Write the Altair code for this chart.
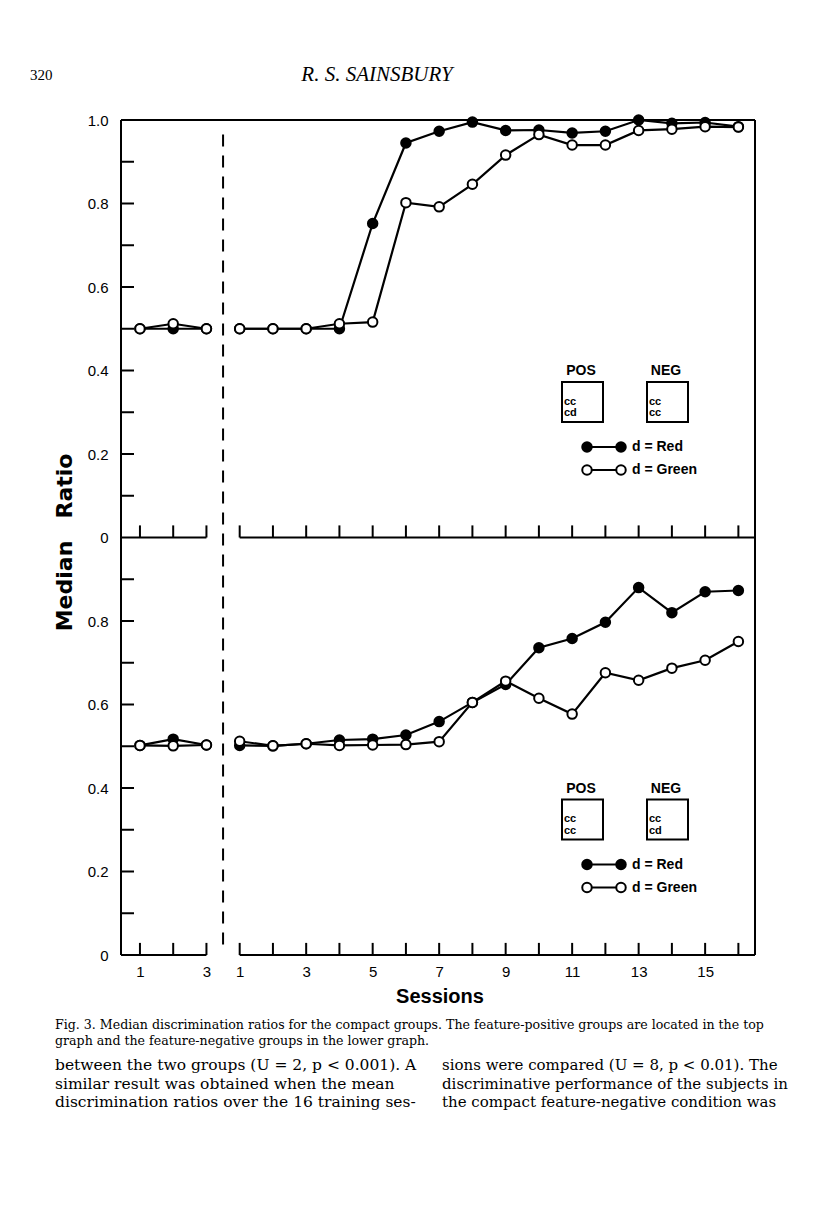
import altair as alt
import pandas as pd

# ---------------- data ----------------
base_sessions = [1, 2, 3]
train_sessions = list(range(1, 17))

# top graph: feature-positive groups
top_red_base = [0.50, 0.50, 0.50]
top_green_base = [0.50, 0.512, 0.50]
top_red_train = [0.50, 0.50, 0.50, 0.50, 0.752, 0.945, 0.973, 0.995,
                 0.975, 0.976, 0.969, 0.973, 1.00, 0.992, 0.994, 0.984]
top_green_train = [0.50, 0.50, 0.50, 0.512, 0.516, 0.802, 0.792, 0.846,
                   0.916, 0.965, 0.940, 0.940, 0.975, 0.978, 0.984, 0.983]

# lower graph: feature-negative groups
low_red_base = [0.502, 0.517, 0.503]
low_green_base = [0.502, 0.501, 0.503]
low_red_train = [0.502, 0.501, 0.506, 0.515, 0.517, 0.527, 0.559, 0.605,
                 0.648, 0.736, 0.758, 0.797, 0.880, 0.820, 0.870, 0.873]
low_green_train = [0.512, 0.501, 0.506, 0.502, 0.503, 0.504, 0.511, 0.605,
                   0.656, 0.615, 0.577, 0.676, 0.658, 0.687, 0.706, 0.751]

x_tick_labels = ["1", "3", "1", "3", "5", "7", "9", "11", "13", "15"]
y_tick_labels = ["0", "0.2", "0.4", "0.6", "0.8", "0", "0.2", "0.4", "0.6", "0.8", "1.0"]

# ---------------- build table ----------------
rows = []


def add(panel, phase, series, sessions, values):
    for s, v in zip(sessions, values):
        pos = s - 1 if phase == "base" else s + 2
        off = 1.0 if panel == "top" else 0.0
        rows.append(dict(panel=panel, phase=phase, series=series, session=s,
                         pos=pos, value=v, yv=v + off,
                         grp=f"{panel}-{phase}-{series}"))


add("top", "base", "Red", base_sessions, top_red_base)
add("top", "train", "Red", train_sessions, top_red_train)
add("low", "base", "Red", base_sessions, low_red_base)
add("low", "train", "Red", train_sessions, low_red_train)
add("top", "base", "Green", base_sessions, top_green_base)
add("top", "train", "Green", train_sessions, top_green_train)
add("low", "base", "Green", base_sessions, low_green_base)
add("low", "train", "Green", train_sessions, low_green_train)
df = pd.DataFrame(rows)

# ---------------- layout constants ----------------
W, H = 634, 835
X_MIN, X_MAX = -0.57, 18.5
FONT_SANS = "Liberation Sans"
FONT_SERIF = "DejaVu Serif"

x_vals = [0, 2, 3, 5, 7, 9, 11, 13, 15, 17]
y_vals = [0, 0.2, 0.4, 0.6, 0.8, 1.0, 1.2, 1.4, 1.6, 1.8, 2.0]

x_label_expr = "{" + ",".join(f"'{v}':'{t}'" for v, t in zip(x_vals, x_tick_labels)) + "}[''+datum.value]"
y_label_expr = "[" + ",".join(f"'{t}'" for t in y_tick_labels) + "][round(datum.value*5)]"

XS = alt.Scale(domain=[X_MIN, X_MAX], nice=False, zero=False)
YS = alt.Scale(domain=[0, 2], nice=False, zero=False)
XA = alt.Axis(values=x_vals, labelExpr=x_label_expr, tickSize=0, domain=False,
              grid=False, labelPadding=9, labelFontSize=15, labelFont=FONT_SANS,
              labelColor="black", title=None, labelFontWeight="normal")
YA = alt.Axis(values=y_vals, labelExpr=y_label_expr, tickSize=0, domain=False,
              grid=False, labelPadding=13, labelFontSize=15, labelFont=FONT_SANS,
              labelColor="black", title=None)


def X(field):
    return alt.X(field, scale=XS, axis=XA)


def Y(field):
    return alt.Y(field, scale=YS, axis=YA)


# frame and axis lines
frame = pd.DataFrame([
    dict(x=X_MIN, x2=X_MIN, y=0, y2=2),
    dict(x=X_MAX, x2=X_MAX, y=0, y2=2),
    dict(x=X_MIN, x2=X_MAX, y=2, y2=2),
    dict(x=X_MIN, x2=2, y=0, y2=0),
    dict(x=3, x2=X_MAX, y=0, y2=0),
    dict(x=X_MIN, x2=2, y=1, y2=1),
    dict(x=3, x2=X_MAX, y=1, y2=1),
])
frame_layer = alt.Chart(frame).mark_rule(color="black", strokeWidth=2).encode(
    x=X("x:Q"), x2="x2:Q", y=Y("y:Q"), y2="y2:Q")

# inward x ticks on both panels
xt = pd.DataFrame([dict(pos=p, base=b) for b in (0, 1) for p in range(19)])
xtick_layer = alt.Chart(xt).transform_calculate(top="datum.base + 0.029").mark_rule(
    color="black", strokeWidth=2).encode(x=X("pos:Q"), y=Y("base:Q"), y2="top:Q")

# inward y ticks
yt = pd.DataFrame({"v": [i / 10 for i in range(1, 20) if i != 10]})
ytick_layer = alt.Chart(yt).mark_rule(color="black", strokeWidth=2).encode(
    y=Y("v:Q"), x=alt.value(0), x2=alt.value(13))

# dashed separator
dash = pd.DataFrame([dict(x=2.5, y=0.025, y2=1.985)])
dash_layer = alt.Chart(dash).mark_rule(color="black", strokeWidth=2, strokeDash=[12, 9]).encode(
    x=X("x:Q"), y=Y("y:Q"), y2="y2:Q")

# data lines and points
lines = alt.Chart(df).mark_line(color="black", strokeWidth=2.2).encode(
    x=X("pos:Q"), y=Y("yv:Q"), detail="grp:N", order="pos:Q")
points = alt.Chart(df).mark_point(shape="circle", filled=True, stroke="black",
                                  strokeWidth=2, size=90, opacity=1).encode(
    x=X("pos:Q"), y=Y("yv:Q"),
    fill=alt.Fill("series:N", scale=alt.Scale(domain=["Red", "Green"], range=["black", "white"]),
                  legend=None))

one = pd.DataFrame({"a": [0]})


def txt(s, x, y, size=15, font=FONT_SANS, weight="normal", align="center",
        style="normal", angle=0, baseline="middle"):
    return alt.Chart(one).mark_text(text=s, fontSize=size, font=font, fontWeight=weight,
                                    align=align, fontStyle=style, angle=angle,
                                    baseline=baseline, color="black").encode(
        x=alt.value(x), y=alt.value(y))


def box(x1, x2, y1, y2):
    return alt.Chart(one).mark_rect(fill="white", stroke="black", strokeWidth=2).encode(
        x=alt.value(x1), x2=alt.value(x2), y=alt.value(y1), y2=alt.value(y2))


def hline(x1, x2, y):
    return alt.Chart(one).mark_rule(color="black", strokeWidth=2).encode(
        x=alt.value(x1), x2=alt.value(x2), y=alt.value(y))


def dot(x, y, filled):
    return alt.Chart(one).mark_point(shape="circle", filled=True, stroke="black", strokeWidth=2,
                                     size=90, opacity=1,
                                     fill="black" if filled else "white").encode(
        x=alt.value(x), y=alt.value(y))


legend_layers = []
for dy, pos_lines, neg_lines in [(0, ("cc", "cd"), ("cc", "cc")), (417.5, ("cc", "cc"), ("cc", "cd"))]:
    legend_layers += [
        txt("POS", 460, 251 + dy, size=14, weight="bold"),
        txt("NEG", 545, 251 + dy, size=14, weight="bold"),
        box(441, 482, 262 + dy, 302 + dy),
        box(526, 567, 262 + dy, 302 + dy),
        txt(pos_lines[0], 443, 281.5 + dy, size=11, weight="bold", align="left"),
        txt(pos_lines[1], 443, 293 + dy, size=11, weight="bold", align="left"),
        txt(neg_lines[0], 528, 281.5 + dy, size=11, weight="bold", align="left"),
        txt(neg_lines[1], 528, 293 + dy, size=11, weight="bold", align="left"),
        hline(466, 500, 327 + dy),
        dot(466, 327 + dy, True), dot(500, 327 + dy, True),
        txt("d = Red", 511, 327 + dy, size=14, weight="bold", align="left"),
        hline(466, 500, 350 + dy),
        dot(466, 350 + dy, False), dot(500, 350 + dy, False),
        txt("d = Green", 511, 350 + dy, size=14, weight="bold", align="left"),
    ]

page_text = [
    txt("320", -91, -45, size=15, font="Liberation Serif", align="left"),
    txt("R. S. SAINSBURY", 256, -45, size=21, font="Liberation Serif", style="italic"),
    txt("Ratio", -56, 366, size=22, font="DejaVu Sans", weight="bold", angle=270),
    txt("Median", -56, 466, size=22, font="DejaVu Sans", weight="bold", angle=270),
    txt("Sessions", 319, 877, size=20, weight="bold"),
    txt("Fig. 3. Median discrimination ratios for the compact groups. The feature-positive groups are located in the top",
        -66, 905, size=12.6, font=FONT_SERIF, align="left"),
    txt("graph and the feature-negative groups in the lower graph.",
        -66, 921, size=12.6, font=FONT_SERIF, align="left"),
    txt("between the two groups (U = 2, p < 0.001). A", -66, 945, size=15.5, font=FONT_SERIF, align="left"),
    txt("similar result was obtained when the mean", -66, 964, size=15.5, font=FONT_SERIF, align="left"),
    txt("discrimination ratios over the 16 training ses-", -66, 982, size=15.5, font=FONT_SERIF, align="left"),
    txt("sions were compared (U = 8, p < 0.01). The", 321, 945, size=15, font=FONT_SERIF, align="left"),
    txt("discriminative performance of the subjects in", 321, 964, size=15, font=FONT_SERIF, align="left"),
    txt("the compact feature-negative condition was", 321, 982, size=15, font=FONT_SERIF, align="left"),
]

chart = alt.layer(
    frame_layer, xtick_layer, ytick_layer, dash_layer, lines, points,
    *legend_layers, *page_text
).properties(
    width=W, height=H,
    autosize=alt.AutoSizeParams(type="none"),
    padding={"left": 113, "top": 112, "right": 53, "bottom": 236},
    background="white",
).configure_view(stroke=None)

chart.save("out.html", embed_options={"renderer": "svg", "actions": False})
